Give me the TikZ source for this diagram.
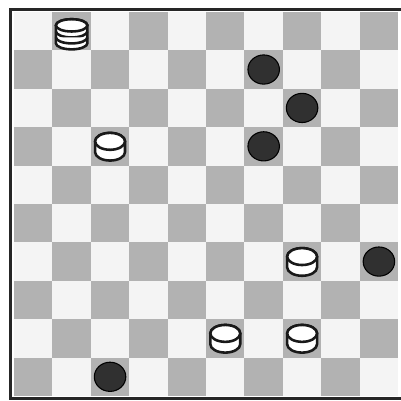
\documentclass[tikz,border=0pt]{standalone}
\usepackage{tikz}
\usepackage{xcolor}
\definecolor{darksq}{RGB}{178,178,178}
\definecolor{lightsq}{RGB}{244,244,244}
\definecolor{manblack}{RGB}{48,48,48}

\tikzset{
    piece/.style={draw=black!90, fill=white, line width=1.9pt},
    whiteman/.pic={
        \filldraw[piece] (-0.39,0.13) -- (-0.39,-0.15)
            arc[start angle=180, end angle=360, x radius=0.39, y radius=0.22]
            -- (0.39,0.13)
            arc[start angle=0, end angle=180, x radius=0.39, y radius=0.22] -- cycle;
        \draw[piece] (0,0.13) ellipse[x radius=0.39, y radius=0.22];
    },
    whiteking/.pic={
        \filldraw[piece] (-0.41,0.15) -- (-0.41,-0.315)
            arc[start angle=180, end angle=360, x radius=0.41, y radius=0.16]
            -- (0.41,0.15)
            arc[start angle=0, end angle=180, x radius=0.41, y radius=0.16] -- cycle;
        \foreach \k in {1,2}
            \draw[piece] (-0.41,0.15-0.155*\k)
                arc[start angle=180, end angle=360, x radius=0.41, y radius=0.16];
        \draw[piece] (0,0.15) ellipse[x radius=0.41, y radius=0.16];
    },
    blackman/.pic={
        \filldraw[draw=black, fill=manblack, line width=0.8pt] (0,0) ellipse[x radius=0.41, y radius=0.38];
    },
}

\begin{document}
\begin{tikzpicture}[
    frame/.style={draw=black!85, line width=2.2pt},
]
\useasboundingbox (-0.365,-0.13) rectangle (10.055,10.31);
\fill[white] (-0.365,-0.13) rectangle (10.055,10.31);

% Board: light background, dark squares where row+col is odd
\fill[lightsq] (0,0) rectangle (10,10);
\foreach \r in {1,...,10}
    \foreach \c in {1,...,10} {
        \pgfmathtruncatemacro{\odd}{mod(\r+\c,2)}
        \ifnum\odd=1 \fill[darksq] (\c-1,10-\r) rectangle ++(1,1); \fi
    }

% Frame (right side runs off the page)
\draw[frame] (10.1,10.07) -- (-0.09,10.07) -- (-0.09,-0.07) -- (10.1,-0.07);

% White pieces
\pic (wk) at (1.5,9.5) {whiteking};
\pic (w1) at (2.5,6.5) {whiteman};
\pic (w2) at (7.5,3.5) {whiteman};
\pic (w3) at (5.5,1.5) {whiteman};
\pic (w4) at (7.5,1.5) {whiteman};

% Black pieces
\pic (b1) at (6.5,8.5) {blackman};
\pic (b2) at (7.5,7.5) {blackman};
\pic (b3) at (6.5,6.5) {blackman};
\pic (b4) at (9.5,3.5) {blackman};
\pic (b5) at (2.5,0.5) {blackman};

\end{tikzpicture}
\end{document}
